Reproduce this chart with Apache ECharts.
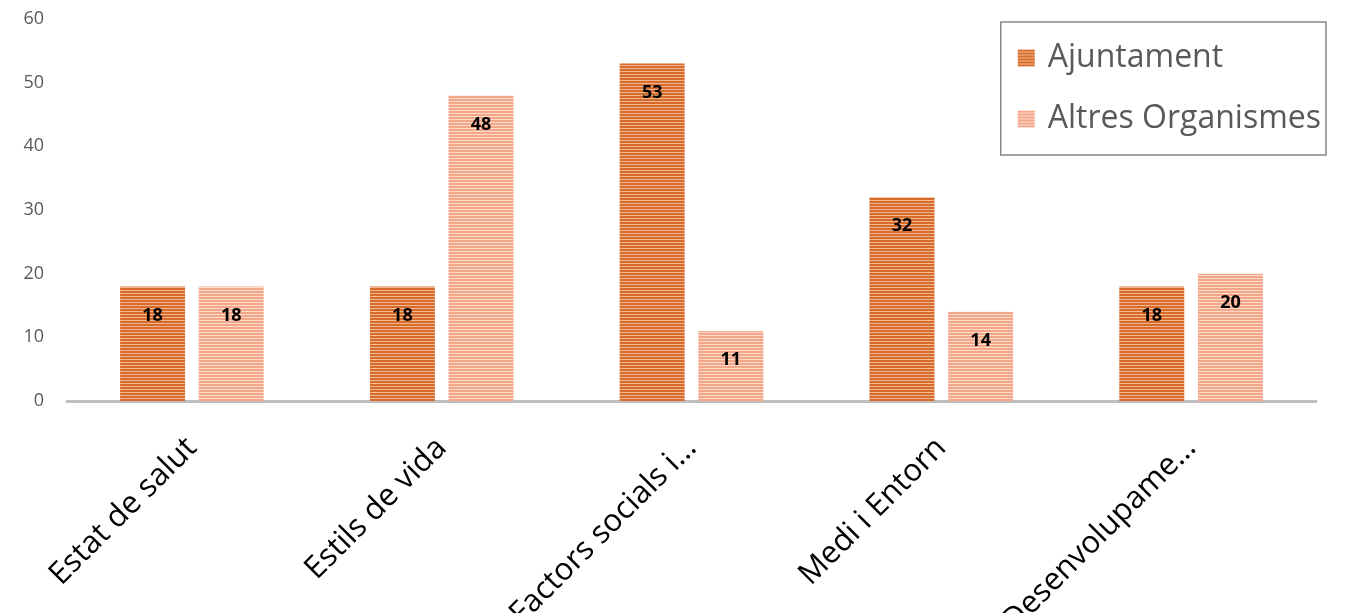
<!DOCTYPE html>
<html><head><meta charset="utf-8">
<script src="https://cdn.jsdelivr.net/npm/echarts@6/dist/echarts.min.js"></script>
<style>html,body{margin:0;padding:0;background:#fff}#c{width:1345px;height:613px}</style>
</head><body><div id="c"></div>
<script>
var categories = ['Estat de salut', 'Estils de vida', 'Factors socials i…', 'Medi i Entorn', 'Desenvolupame…'];
var ajuntament = [18, 18, 53, 32, 18];
var altres = [18, 48, 11, 14, 20];
var seriesNames = ['Ajuntament', 'Altres Organismes'];

function stripe(dark, light) {
  var cv = document.createElement('canvas');
  cv.width = 4; cv.height = 3;
  var ctx = cv.getContext('2d');
  ctx.fillStyle = light; ctx.fillRect(0, 0, 4, 3);
  ctx.fillStyle = dark; ctx.fillRect(0, 0, 4, 2);
  return { image: cv, repeat: 'repeat' };
}
var c1 = stripe('#D66B2B', '#F2B78F');
var c2 = stripe('#F4A688', '#FBDACC');

var chart = echarts.init(document.getElementById('c'));
var lbl = { show: true, position: 'insideTop', distance: 20, color: '#000', fontWeight: 'bold', fontSize: 18, fontFamily: 'Open Sans' };
chart.setOption({
  animation: false,
  grid: { left: 67, right: 29, top: 19, bottom: 212, containLabel: false, outerBoundsMode: 'none' },
  legend: {
    orient: 'vertical', right: 19, top: 22, icon: 'rect',
    itemWidth: 17, itemHeight: 17, itemGap: 29,
    padding: [20, 5, 20, 17],
    borderColor: '#888', borderWidth: 1.5,
    textStyle: { fontSize: 32, color: '#595959', fontFamily: 'Open Sans', padding: [0, 0, 0, 8] },
    data: seriesNames
  },
  xAxis: {
    type: 'category', data: categories,
    axisLine: { lineStyle: { color: '#BFBFBF', width: 3 } },
    axisTick: { show: false },
    axisLabel: { rotate: 45, fontSize: 31, color: '#000', fontFamily: 'Open Sans', margin: 42, interval: 0 }
  },
  yAxis: {
    type: 'value', min: 0, max: 60, interval: 10,
    splitLine: { show: false },
    axisLine: { show: false }, axisTick: { show: false },
    axisLabel: { fontSize: 18, color: '#595959', fontFamily: 'Open Sans', margin: 23 }
  },
  series: [
    { name: seriesNames[0], type: 'bar', data: ajuntament, barWidth: 65, barGap: '21%', itemStyle: { color: c1 }, label: lbl },
    { name: seriesNames[1], type: 'bar', data: altres, barWidth: 65, barGap: '21%', itemStyle: { color: c2 }, label: lbl }
  ]
});
</script></body></html>
